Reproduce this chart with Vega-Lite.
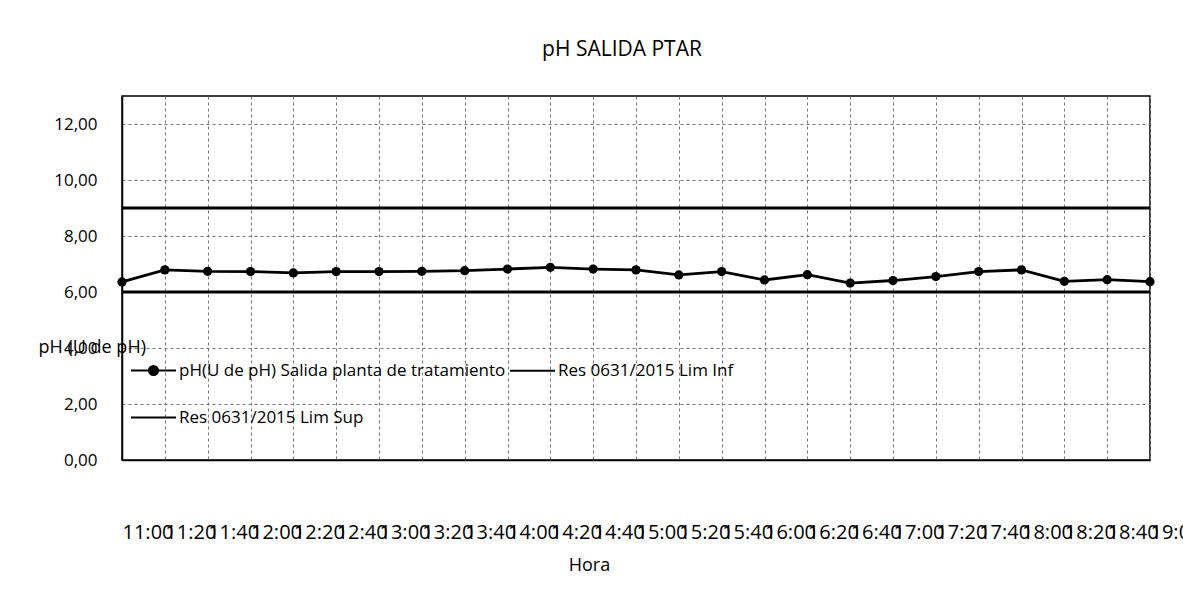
{
  "$schema": "https://vega.github.io/schema/vega-lite/v6.json",
  "width": 1028,
  "height": 364,
  "autosize": {"type": "none"},
  "padding": {"left": 122, "top": 96, "right": 33, "bottom": 131},
  "background": "white",
  "title": {"text": "pH SALIDA PTAR", "fontSize": 21, "font": "Open Sans", "fontWeight": "normal", "color": "black", "anchor": "middle", "dx": -14, "offset": 36},
  "data": {
    "values": [
      {"hora": "11:00", "serie": "pH(U de pH) Salida planta de tratamiento", "valor": 6.36},
      {"hora": "11:20", "serie": "pH(U de pH) Salida planta de tratamiento", "valor": 6.79},
      {"hora": "11:40", "serie": "pH(U de pH) Salida planta de tratamiento", "valor": 6.74},
      {"hora": "12:00", "serie": "pH(U de pH) Salida planta de tratamiento", "valor": 6.73},
      {"hora": "12:20", "serie": "pH(U de pH) Salida planta de tratamiento", "valor": 6.68},
      {"hora": "12:40", "serie": "pH(U de pH) Salida planta de tratamiento", "valor": 6.73},
      {"hora": "13:00", "serie": "pH(U de pH) Salida planta de tratamiento", "valor": 6.73},
      {"hora": "13:20", "serie": "pH(U de pH) Salida planta de tratamiento", "valor": 6.74},
      {"hora": "13:40", "serie": "pH(U de pH) Salida planta de tratamiento", "valor": 6.76},
      {"hora": "14:00", "serie": "pH(U de pH) Salida planta de tratamiento", "valor": 6.82},
      {"hora": "14:20", "serie": "pH(U de pH) Salida planta de tratamiento", "valor": 6.88},
      {"hora": "14:40", "serie": "pH(U de pH) Salida planta de tratamiento", "valor": 6.82},
      {"hora": "15:00", "serie": "pH(U de pH) Salida planta de tratamiento", "valor": 6.79},
      {"hora": "15:20", "serie": "pH(U de pH) Salida planta de tratamiento", "valor": 6.61},
      {"hora": "15:40", "serie": "pH(U de pH) Salida planta de tratamiento", "valor": 6.73},
      {"hora": "16:00", "serie": "pH(U de pH) Salida planta de tratamiento", "valor": 6.43},
      {"hora": "16:20", "serie": "pH(U de pH) Salida planta de tratamiento", "valor": 6.62},
      {"hora": "16:40", "serie": "pH(U de pH) Salida planta de tratamiento", "valor": 6.32},
      {"hora": "17:00", "serie": "pH(U de pH) Salida planta de tratamiento", "valor": 6.41},
      {"hora": "17:20", "serie": "pH(U de pH) Salida planta de tratamiento", "valor": 6.55},
      {"hora": "17:40", "serie": "pH(U de pH) Salida planta de tratamiento", "valor": 6.73},
      {"hora": "18:00", "serie": "pH(U de pH) Salida planta de tratamiento", "valor": 6.79},
      {"hora": "18:20", "serie": "pH(U de pH) Salida planta de tratamiento", "valor": 6.38},
      {"hora": "18:40", "serie": "pH(U de pH) Salida planta de tratamiento", "valor": 6.44},
      {"hora": "19:00", "serie": "pH(U de pH) Salida planta de tratamiento", "valor": 6.37},
      {"hora": "11:00", "serie": "Res 0631/2015 Lim Inf", "valor": 6},
      {"hora": "19:00", "serie": "Res 0631/2015 Lim Inf", "valor": 6},
      {"hora": "11:00", "serie": "Res 0631/2015 Lim Sup", "valor": 9},
      {"hora": "19:00", "serie": "Res 0631/2015 Lim Sup", "valor": 9}
    ]
  },
  "encoding": {
    "x": {
      "field": "hora", "type": "ordinal",
      "scale": {"type": "point", "padding": 0},
      "axis": {
        "title": "Hora", "titleFont": "Open Sans", "titleFontSize": 18, "titleFontWeight": "normal", "titleColor": "black",
        "titleX": 467, "titleY": 105, "titleBaseline": "middle", "titleAnchor": null,
        "labelAngle": 0, "labelAlign": "left", "labelDx": 11, "labelBaseline": "top", "labelPadding": 62,
        "labelOverlap": false, "labelBound": false, "labelFlush": false,
        "labelFont": "Open Sans", "labelFontSize": 20, "labelColor": "black",
        "ticks": false, "domainColor": "black", "domainWidth": 1.5,
        "grid": true, "gridDash": [3, 3], "gridColor": "#777", "gridWidth": 1
      }
    },
    "y": {
      "field": "valor", "type": "quantitative",
      "scale": {"domain": [0, 13], "nice": false, "zero": true},
      "axis": {
        "values": [0, 2, 4, 6, 8, 10, 12],
        "labelExpr": "replace(format(datum.value, '.2f'), '.', ',')",
        "title": "pH (U de pH)", "titleAngle": 0, "titleX": -84, "titleY": 251, "titleAlign": "left", "titleBaseline": "middle",
        "titleFont": "Open Sans", "titleFontSize": 18, "titleFontWeight": "normal", "titleColor": "black",
        "labelFont": "Open Sans", "labelFontSize": 17, "labelColor": "black", "labelPadding": 25,
        "ticks": false, "domainColor": "black", "domainWidth": 1.5,
        "grid": true, "gridDash": [3, 3], "gridColor": "#777", "gridWidth": 1
      }
    }
  },
  "layer": [
    {
      "mark": {"type": "line", "strokeWidth": 2.8},
      "encoding": {
        "color": {
          "field": "serie", "type": "nominal",
          "scale": {
            "domain": ["pH(U de pH) Salida planta de tratamiento", "Res 0631/2015 Lim Sup", "Res 0631/2015 Lim Inf"],
            "range": ["black", "black", "black"]
          },
          "legend": {
            "title": null, "orient": "none", "legendX": 8, "legendY": 251,
            "columns": 2, "columnPadding": 0, "rowPadding": 15,
            "labelFont": "Open Sans", "labelFontSize": 17, "labelColor": "black", "labelOffset": 2, "labelLimit": 0,
            "symbolSize": 2025, "symbolStrokeWidth": 2, "symbolType": "M-1,0H1",
            "encode": {
              "symbols": {
                "update": {
                  "shape": {"signal": "datum.value === 'pH(U de pH) Salida planta de tratamiento' ? 'M-1,0H1M-0.2,0A0.2,0.2,0,1,1,0.2,0A0.2,0.2,0,1,1,-0.2,0Z' : 'M-1,0H1'"},
                  "fill": {"value": "black"},
                  "stroke": {"value": "black"},
                  "strokeWidth": {"value": 2}
                }
              }
            }
          }
        }
      }
    },
    {
      "transform": [{"filter": "datum.serie === 'pH(U de pH) Salida planta de tratamiento'"}],
      "mark": {"type": "point", "filled": true, "color": "black", "size": 85, "opacity": 1}
    }
  ],
  "config": {
    "view": {"stroke": "black", "strokeWidth": 1.5}
  }
}
